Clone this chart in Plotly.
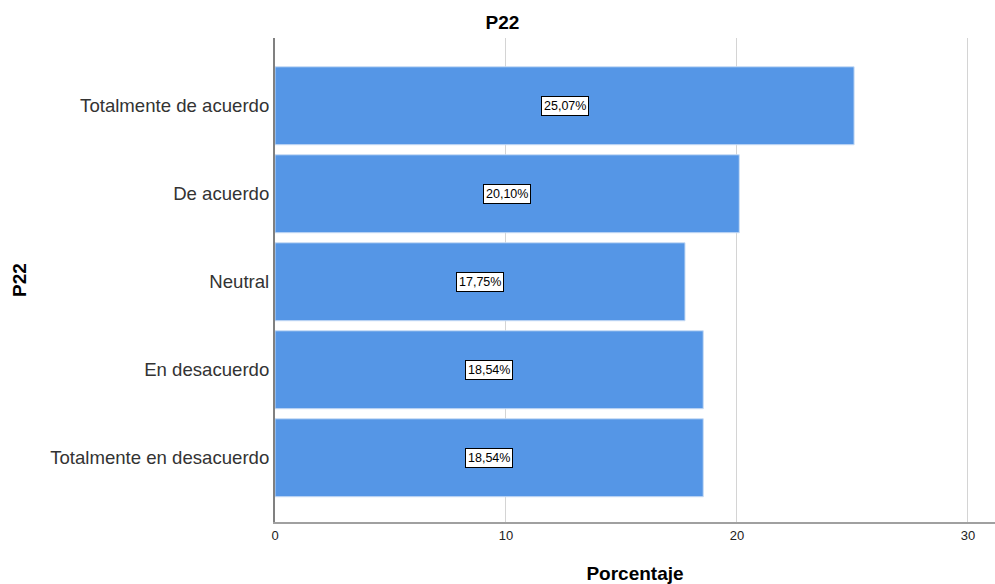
import plotly.graph_objects as go

categories = ["Totalmente en desacuerdo", "En desacuerdo", "Neutral", "De acuerdo", "Totalmente de acuerdo"]
values = [18.54, 18.54, 17.75, 20.10, 25.07]
labels = ["18,54%", "18,54%", "17,75%", "20,10%", "25,07%"]

fig = go.Figure()
fig.add_trace(go.Bar(
    x=values, y=categories, orientation="h",
    marker=dict(color="#5596E6", line=dict(color="#C8DCF5", width=1)),
    width=0.886, hoverinfo="skip",
))

for v, c, t in zip(values, categories, labels):
    fig.add_annotation(
        x=v / 2, y=c, text=t, showarrow=False,
        font=dict(family="Liberation Sans, Arial", size=12.5, color="black"),
        bgcolor="white", bordercolor="black", borderwidth=1, borderpad=2,
    )

fig.update_layout(
    width=995, height=584,
    margin=dict(l=275, r=0, t=38, b=62),
    paper_bgcolor="white", plot_bgcolor="white",
    showlegend=False,
    title=dict(text="<b>P22</b>", x=0.505, xanchor="center", y=0.962, yanchor="middle",
               font=dict(family="Liberation Sans, Arial", size=19, color="black")),
    font=dict(family="Liberation Sans, Arial", color="black"),
)
fig.update_xaxes(
    range=[0, 31.17], tickvals=[0, 10, 20, 30], ticktext=["0", "10", "20", "30"],
    showgrid=True, gridcolor="#D4D4D4", gridwidth=1,
    showline=True, linecolor="#A0A0A0", linewidth=2,
    zeroline=False, ticks="", ticklen=0,
    tickfont=dict(size=13, color="#222222"),
    title=dict(text="<b>Porcentaje</b>", font=dict(size=19, color="black"), standoff=26),
)
fig.update_yaxes(
    range=[-0.73, 4.77], categoryorder="array", categoryarray=categories,
    showline=True, linecolor="#808080", linewidth=2,
    showgrid=False, ticks="", zeroline=False,
    tickfont=dict(size=18.6, color="#333333"),
    title=dict(text="<b>P22</b>", font=dict(size=19, color="black"), standoff=18),
)

fig.write_html("out.html", config={"displayModeBar": False},
               post_script="document.body.style.margin='0';document.body.style.padding='0';")
